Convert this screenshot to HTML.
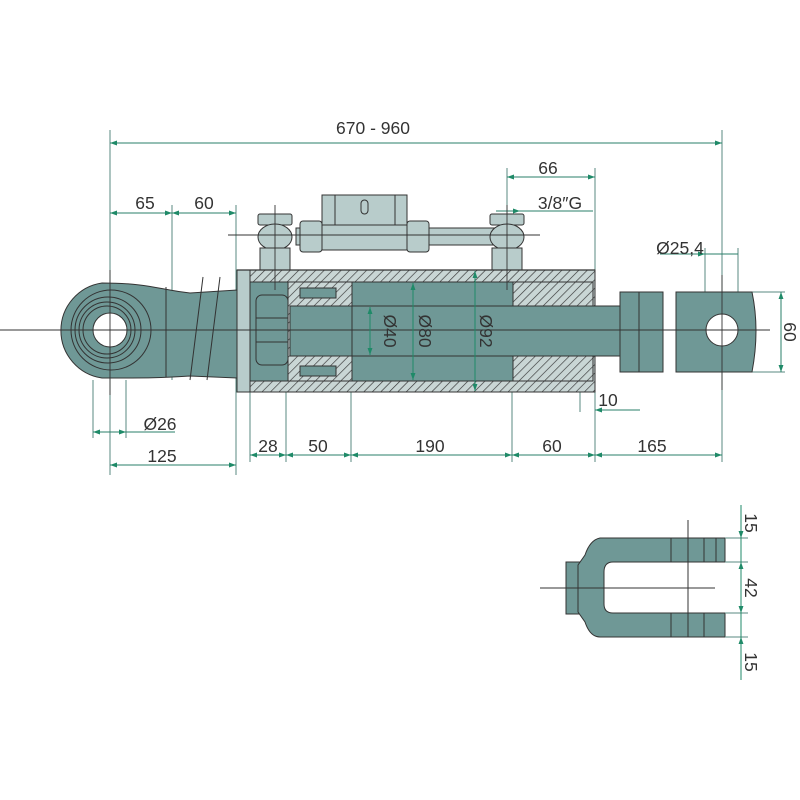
<!DOCTYPE html>
<html><head><meta charset="utf-8"><style>
html,body{margin:0;padding:0;background:#fff}
svg{display:block}
text{font-family:"Liberation Sans",sans-serif;font-size:17.5px;fill:#333}
</style></head><body>
<svg width="800" height="800" viewBox="0 0 800 800" xmlns="http://www.w3.org/2000/svg">
<defs>
<marker id="a" viewBox="0 0 10 10" refX="10" refY="5" markerWidth="7" markerHeight="7" orient="auto-start-reverse"><path d="M0,1.5 L10,5 L0,8.5 z" fill="#1f8a68"/></marker>
<pattern id="h" patternUnits="userSpaceOnUse" width="6" height="6" patternTransform="rotate(45)"><rect width="6" height="6" fill="#c9d6d5"/><line x1="0" y1="0" x2="0" y2="6" stroke="#333" stroke-width="1.3"/></pattern>
</defs>
<g stroke="#2a7f6a" stroke-width="1" fill="none">
<line x1="110" y1="130" x2="110" y2="475" stroke="#5a8a80"/>
<line x1="172" y1="205" x2="172" y2="380" stroke="#5a8a80"/>
<line x1="236" y1="205" x2="236" y2="475" stroke="#5a8a80"/>
<line x1="722" y1="130" x2="722" y2="462" stroke="#5a8a80"/>
<line x1="507" y1="168" x2="507" y2="270" stroke="#5a8a80"/>
<line x1="595" y1="168" x2="595" y2="462" stroke="#5a8a80"/>
<line x1="93" y1="380" x2="93" y2="438" stroke="#5a8a80"/>
<line x1="126" y1="380" x2="126" y2="438" stroke="#5a8a80"/>
<line x1="250" y1="390" x2="250" y2="462" stroke="#5a8a80"/>
<line x1="286" y1="390" x2="286" y2="462" stroke="#5a8a80"/>
<line x1="351" y1="390" x2="351" y2="462" stroke="#5a8a80"/>
<line x1="512" y1="390" x2="512" y2="462" stroke="#5a8a80"/>
<line x1="580" y1="390" x2="580" y2="412" stroke="#5a8a80"/>
<line x1="705" y1="248" x2="705" y2="330" stroke="#5a8a80"/>
<line x1="738" y1="248" x2="738" y2="330" stroke="#5a8a80"/>
<line x1="740" y1="292" x2="785" y2="292" stroke="#5a8a80"/>
<line x1="740" y1="372" x2="785" y2="372" stroke="#5a8a80"/>
<line x1="110" y1="143" x2="722" y2="143" marker-start="url(#a)" marker-end="url(#a)"/>
<line x1="110" y1="213" x2="172" y2="213" marker-start="url(#a)" marker-end="url(#a)"/>
<line x1="172" y1="213" x2="236" y2="213" marker-start="url(#a)" marker-end="url(#a)"/>
<line x1="507" y1="177" x2="595" y2="177" marker-start="url(#a)" marker-end="url(#a)"/>
<line x1="496" y1="211" x2="520" y2="211" marker-end="url(#a)"/>
<line x1="520" y1="211" x2="593" y2="211"/>
<line x1="660" y1="254" x2="705" y2="254" marker-end="url(#a)"/>
<line x1="705" y1="254" x2="738" y2="254"/>
<line x1="781" y1="292" x2="781" y2="372" marker-start="url(#a)" marker-end="url(#a)"/>
<line x1="93" y1="432" x2="126" y2="432" marker-start="url(#a)" marker-end="url(#a)"/>
<line x1="126" y1="432" x2="175" y2="432"/>
<line x1="110" y1="465" x2="236" y2="465" marker-start="url(#a)" marker-end="url(#a)"/>
<line x1="250" y1="455" x2="286" y2="455" marker-start="url(#a)" marker-end="url(#a)"/>
<line x1="286" y1="455" x2="351" y2="455" marker-start="url(#a)" marker-end="url(#a)"/>
<line x1="351" y1="455" x2="512" y2="455" marker-start="url(#a)" marker-end="url(#a)"/>
<line x1="512" y1="455" x2="595" y2="455" marker-start="url(#a)" marker-end="url(#a)"/>
<line x1="595" y1="455" x2="722" y2="455" marker-start="url(#a)" marker-end="url(#a)"/>
<line x1="595" y1="410" x2="610" y2="410" marker-start="url(#a)"/>
<line x1="610" y1="410" x2="640" y2="410"/>
</g>
<g stroke="#333" stroke-width="1" fill="#b8cccb">
<rect x="296" y="228" width="200" height="17"/>
<rect x="322" y="195" width="85" height="55"/>
<line x1="322" y1="225" x2="407" y2="225"/>
<line x1="335" y1="195" x2="335" y2="225"/><line x1="395" y1="195" x2="395" y2="225"/>
<rect x="361" y="200" width="7" height="14" rx="3.5"/>
<rect x="300" y="221" width="22" height="31" rx="3"/>
<rect x="407" y="221" width="22" height="31" rx="3"/>
<rect x="258" y="214" width="34" height="11" rx="2"/>
<ellipse cx="275" cy="237" rx="17" ry="13"/>
<rect x="260" y="248" width="30" height="22"/>
<rect x="490" y="214" width="34" height="11" rx="2"/>
<ellipse cx="507" cy="237" rx="17" ry="13"/>
<rect x="492" y="248" width="30" height="22"/>
</g>
<g stroke="#333" stroke-width="1">
<rect x="237" y="270" width="358" height="122" fill="url(#h)"/>
<rect x="250" y="282" width="335" height="99" fill="#6f9896"/>
<rect x="237" y="270" width="13" height="122" fill="#b8cccb"/>
<rect x="288" y="282" width="64" height="99" fill="url(#h)"/>
<rect x="300" y="288" width="36" height="10" fill="#6f9896"/>
<rect x="300" y="366" width="36" height="10" fill="#6f9896"/>
<rect x="513" y="282" width="80" height="99" fill="url(#h)"/>
<rect x="290" y="306" width="330" height="50" fill="#6f9896"/>
<rect x="256" y="295" width="32" height="70" rx="6" fill="#6f9896"/>
<line x1="256" y1="318" x2="288" y2="318"/><line x1="256" y1="342" x2="288" y2="342"/>
<line x1="352" y1="306" x2="352" y2="356"/>
<line x1="237" y1="270" x2="595" y2="270" stroke-width="1.2"/>
</g>
<g stroke="#333" stroke-width="1" fill="#6f9896">
<path d="M102,283 C150,283 160,290 190,293 L237,290 L237,378 L190,376 C160,378 150,378 102,378 A48,48 0 0 1 102,283 z"/>
<circle cx="111" cy="330" r="40" fill="none"/>
<circle cx="108" cy="330" r="33" fill="none"/>
<circle cx="107" cy="330" r="28" fill="none"/>
<circle cx="107" cy="330" r="24" fill="none"/>
<circle cx="110" cy="330" r="17" fill="#fff"/>
<line x1="166" y1="287" x2="166" y2="377"/>
<line x1="203" y1="277" x2="190" y2="380"/><line x1="220" y1="277" x2="207" y2="380"/>
</g>
<g stroke="#333" stroke-width="1" fill="#6f9896">
<path d="M620,306 L620,292 L663,292 L663,372 L620,372 L620,356 z"/>
<line x1="639" y1="292" x2="639" y2="372"/>
<path d="M676,292 L752,292 Q760,330 752,372 L676,372 z"/>
<circle cx="722" cy="330" r="16" fill="#fff"/>
</g>
<g stroke="#333" stroke-width="0.9">
<line x1="0" y1="330" x2="770" y2="330"/>
<line x1="110" y1="270" x2="110" y2="395"/>
<line x1="275" y1="205" x2="275" y2="290"/>
<line x1="507" y1="205" x2="507" y2="290"/>
<line x1="228" y1="235" x2="540" y2="235"/>
<line x1="722" y1="275" x2="722" y2="390"/>
</g>
<g stroke="#1f8a68" stroke-width="1">
<line x1="370" y1="307" x2="370" y2="355" marker-start="url(#a)" marker-end="url(#a)"/>
<line x1="413" y1="283" x2="413" y2="380" marker-start="url(#a)" marker-end="url(#a)"/>
<line x1="475" y1="271" x2="475" y2="391" marker-start="url(#a)" marker-end="url(#a)"/>
</g>
<g stroke="#333" stroke-width="1" fill="#6f9896">
<rect x="566" y="562" width="14" height="52"/>
<path d="M725,538 L600,538 Q590,540 585,555 L578,565 L578,612 L585,622 Q590,637 600,637 L725,637 L725,613 L613,613 Q604,613 604,604 L604,572 Q604,562 613,562 L725,562 z"/>
<line x1="671" y1="538" x2="671" y2="562"/><line x1="704" y1="538" x2="704" y2="562"/><line x1="716" y1="538" x2="716" y2="562"/>
<line x1="671" y1="613" x2="671" y2="637"/><line x1="704" y1="613" x2="704" y2="637"/>
<line x1="540" y1="588" x2="715" y2="588"/>
<line x1="688" y1="520" x2="688" y2="637"/>
</g>
<g stroke="#5a8a80" stroke-width="1">
<line x1="725" y1="538" x2="748" y2="538"/><line x1="725" y1="562" x2="748" y2="562"/>
<line x1="725" y1="613" x2="748" y2="613"/><line x1="725" y1="637" x2="748" y2="637"/>
</g>
<g stroke="#1f8a68" stroke-width="1">
<line x1="741" y1="505" x2="741" y2="538" marker-end="url(#a)"/>
<line x1="741" y1="538" x2="741" y2="562"/>
<line x1="741" y1="562" x2="741" y2="613" marker-start="url(#a)" marker-end="url(#a)"/>
<line x1="741" y1="613" x2="741" y2="637"/>
<line x1="741" y1="680" x2="741" y2="637" marker-end="url(#a)"/>
</g>
<text x="373" y="134" text-anchor="middle">670 - 960</text>
<text x="145" y="209" text-anchor="middle">65</text>
<text x="204" y="209" text-anchor="middle">60</text>
<text x="548" y="174" text-anchor="middle">66</text>
<text x="560" y="209" text-anchor="middle">3/8″G</text>
<text x="680" y="254" text-anchor="middle">Ø25,4</text>
<text x="608" y="406" text-anchor="middle">10</text>
<text x="160" y="430" text-anchor="middle">Ø26</text>
<text x="162" y="462" text-anchor="middle">125</text>
<text x="268" y="452" text-anchor="middle">28</text>
<text x="318" y="452" text-anchor="middle">50</text>
<text x="430" y="452" text-anchor="middle">190</text>
<text x="552" y="452" text-anchor="middle">60</text>
<text x="652" y="452" text-anchor="middle">165</text>
<text transform="translate(384,331) rotate(90)" text-anchor="middle">Ø40</text>
<text transform="translate(419,331) rotate(90)" text-anchor="middle">Ø80</text>
<text transform="translate(480,331) rotate(90)" text-anchor="middle">Ø92</text>
<text transform="translate(784,332) rotate(90)" text-anchor="middle">60</text>
<text transform="translate(745,523) rotate(90)" text-anchor="middle">15</text>
<text transform="translate(745,588) rotate(90)" text-anchor="middle">42</text>
<text transform="translate(745,662) rotate(90)" text-anchor="middle">15</text>
</svg>
</body></html>
